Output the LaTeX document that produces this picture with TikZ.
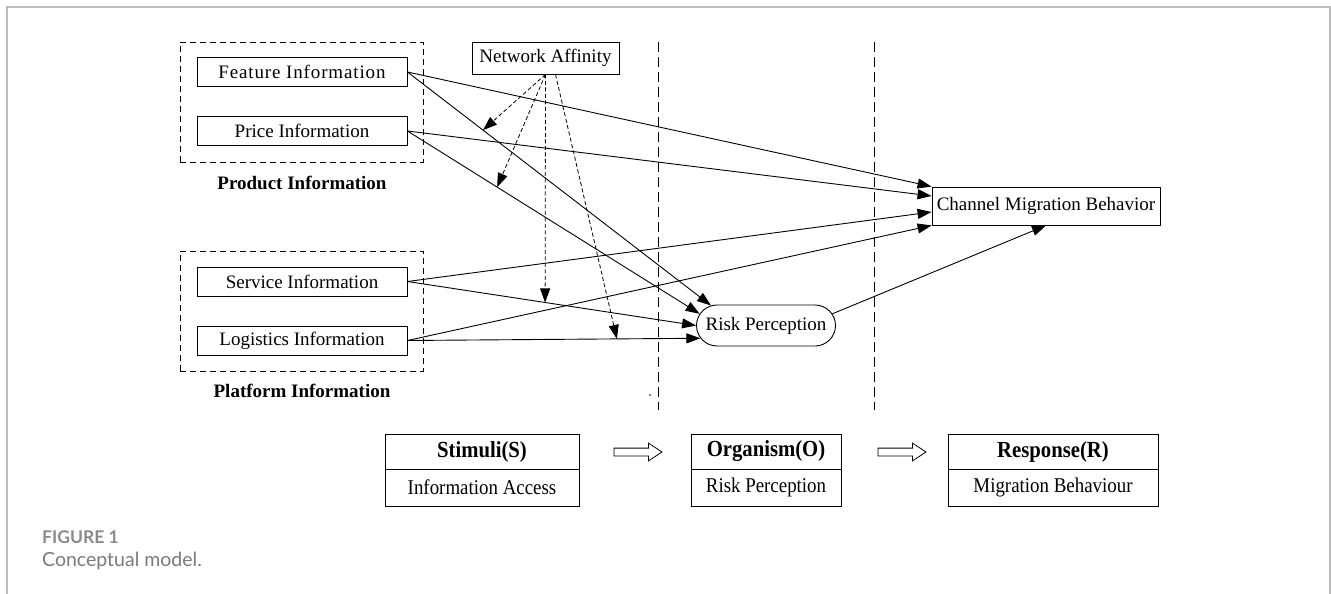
\documentclass[tikz,border=0pt]{standalone}
\usepackage{fontspec}
\setmainfont{Liberation Serif}
\newfontfamily\sorfont[FakeStretch=0.9]{Liberation Serif}
\newfontfamily\capfont{Lato}
\usetikzlibrary{arrows.meta,shapes.misc,shapes.arrows}
\definecolor{framegray}{HTML}{BBBBBB}
\definecolor{capgray}{HTML}{8A8A8A}
\definecolor{capgraytwo}{HTML}{7A7A7A}
\begin{document}
\begin{tikzpicture}[x=1pt,y=-1pt,
  every node/.style={font=\fontsize{19}{22}\selectfont},
  box/.style={draw, line width=0.9pt, minimum width=210pt, minimum height=29pt, inner sep=0pt},
  grp/.style={draw, dash pattern=on 6pt off 4pt, line width=0.9pt, minimum width=243pt, minimum height=120pt, inner sep=0pt},
  grplabel/.style={font=\fontsize{19}{22}\selectfont\bfseries, inner sep=0pt},
  arr/.style={line width=0.9pt, -{Triangle[length=14pt,width=10pt]}},
  darr/.style={line width=0.8pt, dash pattern=on 4pt off 2.5pt, -{Triangle[length=14pt,width=10pt]}},
  vdash/.style={line width=0.9pt, dash pattern=on 10pt off 5pt},
  sorhead/.style={draw, line width=0.9pt, inner sep=0pt, minimum height=35pt, font=\sorfont\fontsize{23}{27}\selectfont\bfseries},
  sorbody/.style={draw, line width=0.9pt, inner sep=0pt, minimum height=37pt, font=\sorfont\fontsize{21}{25}\selectfont},
  hollow/.style={draw, line width=0.8pt, single arrow, single arrow head extend=5pt, single arrow tip angle=67, inner xsep=0pt, inner ysep=3.5pt, minimum height=48pt},
]
\useasboundingbox (0,0) rectangle (1331,594);
\draw[framegray, line width=1.5pt] (7,594) -- (7,7) -- (1330,7) -- (1330,594);

% groups
\node[grp] (prodgrp) at (301.5,102) {};
\node[grp] (platgrp) at (301.5,311) {};
\node[box] (feat) at (302,72) {\addfontfeatures{LetterSpace=4.5}Feature Information};
\node[box] (price) at (302,131) {Price Information};
\node[box] (serv) at (302,281.5) {Service Information};
\node[box] (logi) at (302,340.5) {Logistics Information};
\node[grplabel] (prodlab) at (302,183) {Product Information};
\node[grplabel] (platlab) at (302,391) {Platform Information};

\node[draw, line width=0.9pt, minimum width=147pt, minimum height=32pt, inner sep=0pt] (na) at (545.5,58) {Network Affinity};
\node[draw, line width=0.9pt, minimum width=228pt, minimum height=38pt, inner sep=0pt] (chan) at (1046,206) {Channel Migration Behavior};
\node[draw, line width=0.9pt, rounded rectangle, minimum width=139pt, minimum height=41pt, inner sep=0pt, label={center:Risk Perception}] (risk) at (766,325.5) {};

% stage separators
\draw[vdash] (658,42) -- (658,410);
\draw[vdash] (874,42) -- (874,410);
\fill (650,395) circle (0.9pt);

% solid edges
\draw[arr] (feat.east) -- (chan.north west);
\draw[arr] (feat.east) -- coordinate[pos=0.249] (m1) (risk.160);
\draw[arr] (price.east) -- (chan.175);
\draw[arr] (price.east) -- coordinate[pos=0.307] (m2) (risk.170);
\draw[arr] (serv.east) -- (chan.183);
\draw[arr] (serv.east) -- coordinate[pos=0.477] (m3) (risk.west);
\draw[arr] (logi.east) -- (chan.south west);
\draw[arr] (logi.east) -- coordinate[pos=0.715] (m4) (risk.191);
\draw[arr] (risk.10) -- (chan.south);

% moderating (dashed) edges
\draw[darr] (na.south) -- (m1);
\draw[darr] (na.south) -- (m2);
\draw[darr] (na.south) -- (m3);
\draw[darr] ([xshift=10pt]na.south) -- (m4);

% S-O-R
\node[sorhead, minimum width=194pt] (stim) at (482,451.5) {Stimuli(S)};
\node[sorbody, minimum width=194pt] (stimb) at (482,487.5) {Information Access};
\node[sorhead, minimum width=150pt] (org) at (766,451.5) {Organism(O)};
\node[sorbody, minimum width=150pt] (orgb) at (766,487.5) {Risk Perception};
\node[sorhead, minimum width=210pt] (resp) at (1053,451.5) {Response(R)};
\node[sorbody, minimum width=210pt] (respb) at (1053,487.5) {Migration Behaviour};
\node[hollow] (ha) at (635,452) {};
\node[hollow] (hb) at (899,452) {};

% caption
\node[anchor=west, font=\capfont\bfseries\fontsize{17.5}{20}\selectfont, text=capgray, inner sep=0pt] (fig) at (42,537) {FIGURE 1};
\node[anchor=west, font=\capfont\fontsize{19.5}{23}\selectfont, text=capgraytwo, inner sep=0pt] (cap) at (42,561) {Conceptual model.};
\end{tikzpicture}
\end{document}
